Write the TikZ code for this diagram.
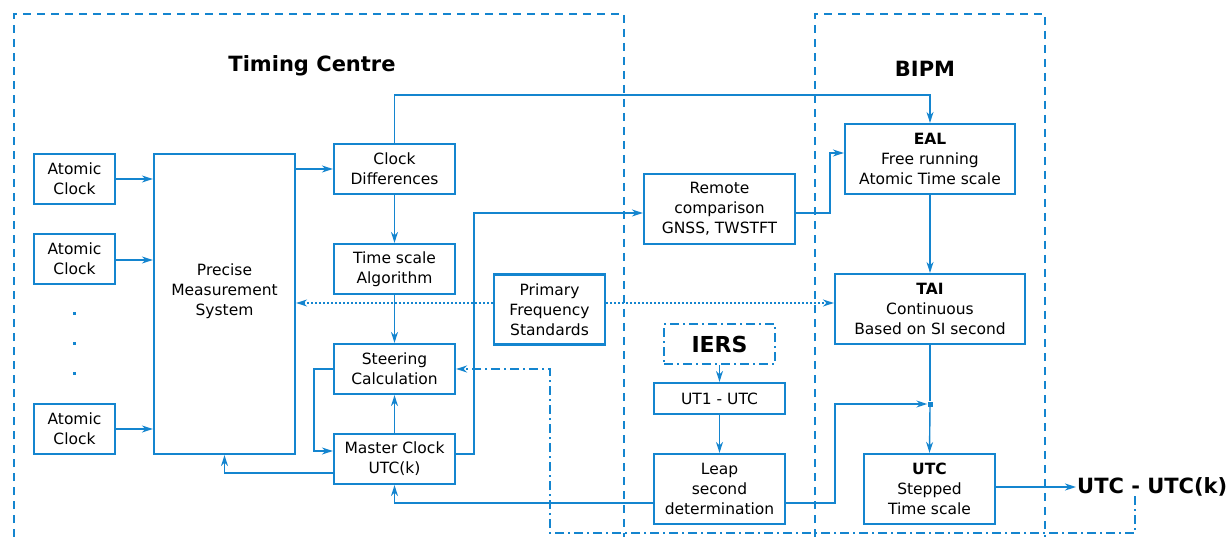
\documentclass[tikz,border=0pt]{standalone}
\usepackage{fontspec}
\setmainfont{DejaVu Sans}
\usetikzlibrary{arrows.meta,calc}
\definecolor{cblue}{RGB}{20,133,207}
\newcommand\bodyfs{\fontsize{15.5}{20}\selectfont}
\newcommand\titlefs{\fontsize{21}{25}\selectfont\bfseries}
\begin{document}
\begin{tikzpicture}[x=1pt,y=-1pt,
  box/.style={draw=cblue, line width=2.2pt, align=center, inner sep=0pt, font=\bodyfs},
  tip/.style={-{Stealth[length=11pt,width=7pt,inset=3.5pt]}},
  conn/.style={draw=cblue, line width=1.4pt, tip},
  plain/.style={draw=cblue, line width=1.4pt},
  dotconn/.style={conn, dash pattern=on 2pt off 2pt},
  ddash/.style={draw=cblue, line width=1.6pt, dash pattern=on 9pt off 4pt on 2pt off 4pt},
  region/.style={draw=cblue, line width=2.2pt, dash pattern=on 8pt off 6pt},
  title/.style={font=\titlefs, inner sep=0pt}
]
\useasboundingbox (0,0) rectangle (1231,537);
% regions
\draw[region] (14,537) -- (14,14) -- (624,14) -- (624,537);
\draw[region] (815,537) -- (815,14) -- (1045,14) -- (1045,537);
\node[title] (tctitle) at (312,66) {Timing Centre};
\node[title] (bipmtitle) at (925,69) {BIPM};
% nodes
\node[box, minimum width=81, minimum height=50] (ac1) at (74.5,179) {Atomic\\Clock};
\node[box, minimum width=81, minimum height=50] (ac2) at (74.5,259) {Atomic\\Clock};
\node[box, minimum width=81, minimum height=50] (ac3) at (74.5,429) {Atomic\\Clock};
\foreach \yy/\nm in {313/da,343/db,373/dc}{
  \node[fill=cblue, minimum size=3pt, inner sep=0pt] (\nm) at (74,\yy) {};
}
\node[box, minimum width=141, minimum height=300] (pms) at (224.5,304) {};
\node[align=center, inner sep=0pt, font=\bodyfs] (pmstext) at (224.5,291) {Precise\\Measurement\\System};
\node[box, minimum width=121, minimum height=50] (cd) at (394.5,169) {Clock\\Differences};
\node[box, minimum width=121, minimum height=50] (tsa) at (394.5,269) {Time scale\\Algorithm};
\node[box, minimum width=121, minimum height=50] (sc) at (394.5,369) {Steering\\Calculation};
\node[box, minimum width=121, minimum height=50] (mc) at (394.5,459) {Master Clock\\UTC(k)};
\node[box, minimum width=151, minimum height=70] (rc) at (719.5,209) {Remote\\comparison\\GNSS, TWSTFT};
\node[box, minimum width=111, minimum height=70] (pfs) at (549.5,309.5) {Primary\\Frequency\\Standards};
\node[box, ddash, line width=2pt, minimum width=111, minimum height=40, font=\fontsize{22}{26}\selectfont\bfseries] (iers) at (719.5,344) {IERS};
\node[box, minimum width=131, minimum height=31] (ut1) at (719.5,398.5) {UT1 - UTC};
\node[box, minimum width=131, minimum height=70] (leap) at (719.5,489) {Leap\\second\\determination};
\node[box, minimum width=170, minimum height=70] (eal) at (930,159) {\textbf{EAL}\\Free running\\Atomic Time scale};
\node[box, minimum width=190, minimum height=70] (tai) at (930,309) {\textbf{TAI}\\Continuous\\Based on SI second};
\node[box, minimum width=131, minimum height=70] (utc) at (929.5,489) {\textbf{UTC}\\Stepped\\Time scale};
\node[font=\titlefs, inner sep=1pt, anchor=west] (res) at (1076,487) {UTC - UTC(k)};
\node[fill=cblue, minimum size=5pt, inner sep=0pt] (jn) at (930,404) {};
% connectors
\draw[conn] (ac1.east) -- (pms.west |- ac1.east);
\draw[conn] ($(ac2.east)+(0,1)$) -- (pms.west |- {0,260});
\draw[conn] (ac3.east) -- (pms.west |- ac3.east);
\draw[conn] (pms.east |- cd.west) -- (cd.west);
\draw[conn] (cd.south) -- (tsa.north);
\draw[conn] (tsa.south) -- (sc.north);
\draw[conn] (mc.north) -- (sc.south);
\draw[conn] (sc.west) -- (314,369) |- ($(mc.west)+(0,-8)$);
\draw[conn] ($(mc.west)+(0,14)$) -| (pms.south);
\draw[conn] ($(mc.east)+(0,-5)$) -- (474,454) |- ($(rc.west)+(0,4)$);
\draw[conn] ($(rc.east)+(0,4)$) -| (830,153) -- ($(eal.west)+(0,-6)$);
\draw[conn] (cd.north) |- (930,95) -- (eal.north);
\draw[conn] (eal.south) -- (tai.north);
\draw[dotconn] ($(pfs.west)+(0,-6.5)$) -- (pms.east |- {0,303});
\draw[dotconn] ($(pfs.east)+(0,-6.5)$) -- (tai.west |- {0,303});
\draw[conn] (iers.south) -- (ut1.north);
\draw[conn] (ut1.south) -- (leap.north);
\draw[conn] ($(leap.west)+(0,14)$) -| (mc.south);
\draw[conn] ($(leap.east)+(0,14)$) -- (835,503) |- (jn.west);
\draw[plain] (tai.south) -- (jn.north);
\draw[conn] (jn.south) -- (utc.north);
\draw[conn] ($(utc.east)+(0,-2)$) -- (res.west);
\draw[ddash, tip] (1135,496) -- (1135,533) -| (550,369) -- (sc.east);
\end{tikzpicture}
\end{document}
